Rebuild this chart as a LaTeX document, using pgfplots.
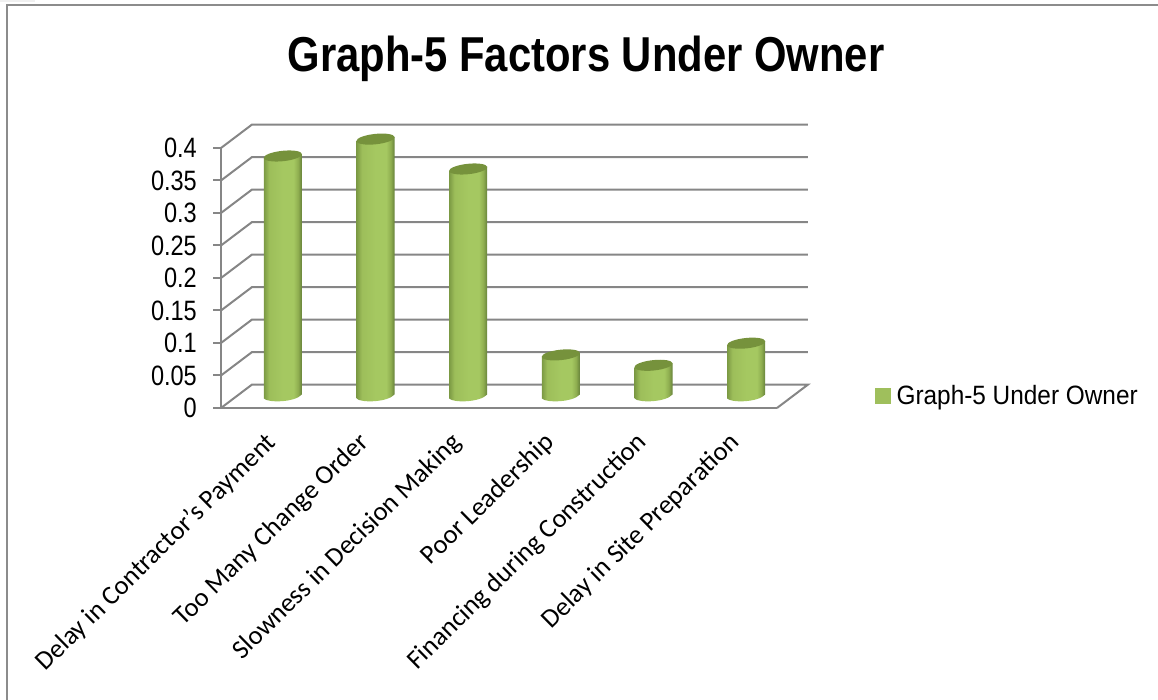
\documentclass[border=0pt]{standalone}
\usepackage{fontspec}
\setmainfont{Liberation Sans}
\newfontfamily\titlefont[FakeStretch=0.853]{Liberation Sans Bold}
\newfontfamily\numfont[FakeStretch=0.84]{Liberation Sans}
\newfontfamily\legfont[FakeStretch=0.92]{Liberation Sans}
\newfontfamily\catfont{Carlito}
\usepackage{pgfplots}
\pgfplotsset{compat=1.18}
\usepackage{pgfplotstable}

\definecolor{framegray}{HTML}{8C8C8C}
\definecolor{gridgray}{HTML}{868686}
\definecolor{legendgreen}{HTML}{9FBF5C}
\definecolor{captop}{HTML}{76923C}
\definecolor{cylA}{HTML}{7C9A44}
\definecolor{cylB}{HTML}{9DBE5A}
\definecolor{cylC}{HTML}{A5C861}
\definecolor{cylD}{HTML}{8FAE50}
\definecolor{cylE}{HTML}{67823A}

% lit cylinder surface, dark towards both rims
\pgfdeclarehorizontalshading{cylsurface}{100bp}{
  color(0bp)=(cylA); color(25bp)=(cylA); color(32bp)=(cylB);
  color(50bp)=(cylC); color(64bp)=(cylC); color(70bp)=(cylD);
  color(75bp)=(cylE); color(100bp)=(cylE)}

% one cylinder per point; the y value sets its height (650 units per 1.0).
% Coordinates carry the depth offset (15.5, 11.5) of the floor's middle.
\pgfdeclareplotmark{cylinderbar}{%
    \pgfmathsetlengthmacro{\cylh}{\barvalue*650pt}
    \path[shading=cylsurface,draw=none]
      (-3.5pt,9.5pt) -- (-3.5pt,{9.5pt-\cylh})
      .. controls (0.5pt,{5pt-\cylh}) and (27.5pt,{5.5pt-\cylh}) .. (34.5pt,{13.5pt-\cylh})
      -- (34.5pt,13.5pt) -- cycle;
    \path[fill=captop,draw=none]
      (34.59pt,13.51pt)
      .. controls (34.29pt,16.37pt) and (25.5pt,17.78pt) .. (14.96pt,16.67pt)
      .. controls (4.42pt,15.56pt) and (-3.89pt,12.35pt) .. (-3.59pt,9.49pt)
      .. controls (-3.29pt,6.63pt) and (5.5pt,5.22pt) .. (16.04pt,6.33pt)
      .. controls (26.58pt,7.44pt) and (34.89pt,10.65pt) .. (34.59pt,13.51pt)
      -- cycle;}

\pgfplotstableread{
x   y
0.5 0.37
1.5 0.396
2.5 0.35
3.5 0.064
4.5 0.048
5.5 0.082
}\ownerdata

\begin{document}
\begin{tikzpicture}[x=1pt,y=1pt]
  \useasboundingbox (0,0) rectangle (1158,700);
  % chart frame, open at the right and bottom
  \fill[gray!12] (0,697.5) rectangle (35,700);
  \draw[framegray,line width=2pt] (7,0) -- (7,694.5) -- (1158,694.5);
  \node[anchor=center,font=\titlefont\fontsize{49}{49}\selectfont] at (586,641) {Graph-5 Factors Under Owner};
  \begin{axis}[
    at={(221pt,292pt)},anchor=south west,
    scale only axis,width=556pt,height=260pt,
    xmin=0,xmax=6,ymin=0,ymax=0.4,
    clip=false,
    axis lines*=left,
    axis line style={gridgray,line width=2pt,-},
    every tick/.style={gridgray,line width=2pt},
    tick align=outside,
    major tick length=8pt,minor tick length=8pt,
    xtick={0.5,1.5,2.5,3.5,4.5,5.5},
    xticklabels={Delay in Contractor’s Payment,Too Many Change Order,Slowness in Decision Making,Poor Leadership,Financing during Construction,Delay in Site Preparation},
    x tick style={draw=none},
    minor x tick style={gridgray,line width=2pt},
    minor xtick={0,1,2,3,4,5,6},
    xticklabel style={font=\catfont\fontsize{26.6}{26.6}\selectfont,rotate=44.5,anchor=north east,inner sep=0pt,yshift=-8pt,xshift=-12.3pt},
    ytick={0,0.05,0.1,0.15,0.2,0.25,0.3,0.35,0.4},
    scaled y ticks=false,
    yticklabels={0,0.05,0.1,0.15,0.2,0.25,0.3,0.35,0.4},
    yticklabel style={font=\numfont\fontsize{28}{28}\selectfont,inner sep=0pt,xshift=-16pt},
    legend style={at={(axis cs:7.057,0.019)},anchor=west,draw=none,fill=none,
      font=\legfont\fontsize{26.5}{26.5}\selectfont,inner sep=0pt},
    legend cell align=left,
  ]
    % side and back wall rulings
    \addplot[gridgray,line width=2pt,forget plot] coordinates {(0,0)(0.334,0.036)(6.334,0.036)(6,0)};
    \addplot[gridgray,line width=2pt,forget plot] coordinates {(0,0.05)(0.334,0.086)(6.334,0.086)};
    \addplot[gridgray,line width=2pt,forget plot] coordinates {(0,0.1)(0.334,0.136)(6.334,0.136)};
    \addplot[gridgray,line width=2pt,forget plot] coordinates {(0,0.15)(0.334,0.186)(6.334,0.186)};
    \addplot[gridgray,line width=2pt,forget plot] coordinates {(0,0.2)(0.334,0.236)(6.334,0.236)};
    \addplot[gridgray,line width=2pt,forget plot] coordinates {(0,0.25)(0.334,0.286)(6.334,0.286)};
    \addplot[gridgray,line width=2pt,forget plot] coordinates {(0,0.3)(0.334,0.336)(6.334,0.336)};
    \addplot[gridgray,line width=2pt,forget plot] coordinates {(0,0.35)(0.334,0.386)(6.334,0.386)};
    \addplot[gridgray,line width=2pt,forget plot] coordinates {(0,0.4)(0.334,0.436)(6.334,0.436)};
    % the series itself
    \addplot[scatter,only marks,mark=cylinderbar,
      visualization depends on={rawy\as\barvalue},
      legend image code/.code={\fill[legendgreen] (0pt,-7.5pt) rectangle (15pt,7.5pt);}
      ] table[x=x,y=y] {\ownerdata};
    \addlegendentry{\hspace{4pt}Graph-5 Under Owner}
  \end{axis}
\end{tikzpicture}
\end{document}
